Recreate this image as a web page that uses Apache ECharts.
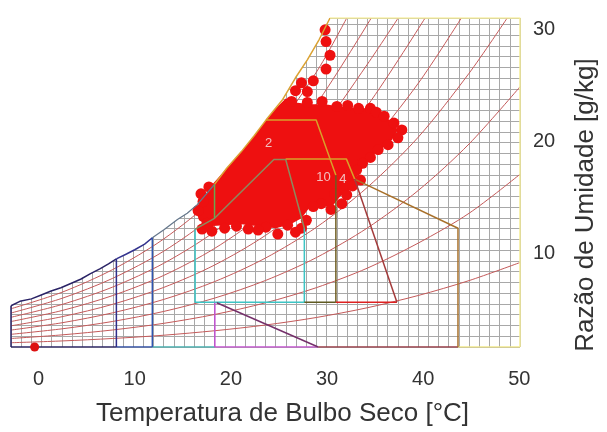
<!DOCTYPE html>
<html><head><meta charset="utf-8">
<script src="https://cdn.jsdelivr.net/npm/echarts@6/dist/echarts.min.js"></script>
<style>html,body{margin:0;padding:0;background:#fff}#c{width:607px;height:432px}</style>
</head><body><div id="c"></div>
<script>
// ---- tick labels ----
const xTickLabels = [0, 10, 20, 30, 40, 50];
const yTickLabels = [10, 20, 30];

// ---- saturation curve (upper boundary) ----
const saturation = [[-2.87,5.38],[-1.945,5.77],[-0.747,5.99],[0.276,6.34],[1.30,6.69],[2.32,6.98],[3.35,7.36],[4.37,7.74],[5.40,8.24],[6.42,8.68],[7.27,9.12],[8.09,9.55],
  [9.14,9.99],[10.0,10.37],[11.03,10.87],[11.83,11.44],
  [13.07,12.18],[14.44,13.06],[15.46,13.63],[16.48,14.37],[18.30,16.2],
  [19.56,17.64],[21.09,19.12],[22.42,20.53],[23.65,21.93],[25.39,23.77],[26.72,25.7],[27.95,27.3],[29.18,29.11],[30.31,31.03]];

// ---- relative humidity curves 10% .. 90% ----
const rh10 = [[-2.87,2.08],[2.43,2.24],[7.72,2.46],[13.01,2.75],[18.31,3.15],[23.60,3.66],[28.89,4.33],[34.19,5.20],[39.48,6.29],[44.77,7.62],[50.07,9.23]];
const rh20 = [[-2.87,2.46],[2.43,2.78],[7.72,3.22],[13.01,3.81],[18.31,4.60],[23.60,5.64],[28.89,6.99],[34.19,8.73],[39.48,10.96],[44.77,13.62],[50.07,17.1]];
const rh30 = [[-2.87,2.83],[2.43,3.32],[7.72,3.98],[13.01,4.87],[18.31,6.06],[23.60,7.63],[28.89,9.67],[34.19,12.31],[39.48,15.65],[44.77,19.8],[50.07,24.9]];
const rh40 = [[-2.87,3.21],[2.43,3.86],[7.72,4.75],[13.01,5.94],[18.31,7.53],[23.60,9.63],[28.89,12.37],[34.19,15.93],[39.48,20.4],[44.77,26.1],[48.74,31.03]];
const rh50 = [[-2.87,3.59],[2.43,4.40],[7.72,5.51],[13.01,7.01],[18.31,9.01],[23.60,11.65],[28.89,15.09],[34.19,19.5],[39.48,25.2],[43.97,31.03]];
const rh60 = [[-2.87,3.97],[2.43,4.95],[7.72,6.29],[13.01,8.08],[18.31,10.49],[23.60,13.68],[28.89,17.8],[34.19,23.2],[40.2,31.03]];
const rh70 = [[-2.87,4.35],[2.43,5.49],[7.72,7.05],[13.01,9.16],[18.31,11.98],[23.60,15.7],[28.89,20.55],[34.19,26.9],[37.4,31.03]];
const rh80 = [[-2.87,4.73],[2.43,6.04],[7.72,7.83],[13.01,10.24],[18.31,13.48],[23.60,17.75],[28.89,23.35],[34.6,31.03]];
const rh90 = [[-2.87,5.11],[2.43,6.58],[7.72,8.61],[13.01,11.33],[18.31,14.99],[23.60,19.8],[28.89,26.2],[32.05,31.03]];

// ---- zone boundaries ----
const leftEdge = [[-2.87,1.70],[-2.87,5.38]];
const bottomNavy = [[-2.87,1.70],[8.09,1.70]];
const bottomBlue = [[8.09,1.70],[11.83,1.70]];
const bottomTeal = [[11.83,1.70],[18.33,1.70]];
const bottomMagenta = [[18.33,1.70],[29.08,1.70]];
const bottomBrown = [[29.08,1.70],[43.62,1.70]];
const bottomYellow = [[43.62,1.70],[50.07,1.70]];
const navyVertical = [[8.09,1.70],[8.09,9.55]];
const blueVertical = [[11.83,1.70],[11.83,11.44]];
const comfortBox = [[16.28,12.21],[16.28,5.68],[27.64,5.68],[27.64,12.29]];
const comfortTop = [[16.28,12.21],[18.30,13.17],[24.47,18.42],[25.70,18.42],[27.64,12.29]];
const greenVertical = [[18.30,13.17],[18.30,16.2]];
const zone2Top = [[23.65,21.93],[28.87,21.93],[30.92,17.02]];
const oliveVertical = [[30.92,17.02],[30.92,5.68]];
const oliveBottom = [[27.64,5.68],[30.92,5.68]];
const redBottom = [[30.92,5.68],[37.27,5.68]];
const zone4Top = [[25.70,18.45],[32.02,18.45],[32.87,16.67]];
const brownZone = [[32.87,16.67],[43.62,12.29],[43.62,1.70]];
const darkRedDiag = [[32.87,16.67],[37.27,5.68]];
const magentaVertical = [[18.33,1.70],[18.33,5.64]];
const purpleDiag = [[18.53,5.64],[29.08,1.70]];
const yellowFrame = [[30.31,31.03],[50.07,31.03],[50.07,1.70]];

// ---- zone numbers ----
const zoneLabels = [{value:[23.93,19.82],name:'2'},{value:[29.62,16.85],name:'10'},{value:[31.64,16.67],name:'4'}];

// ---- hourly climate data (dense cloud + outer points) ----
const cloudCore = [[16.89,14.66],[18.02,16.15],[19.56,17.64],[21.09,19.12],[22.42,20.53],[23.65,21.93],[24.68,22.98],[25.70,23.85],[26.72,23.50],[28.26,23.33],[29.80,23.33],[31.33,23.15],[32.87,22.98],[34.40,22.98],[35.73,22.45],[36.76,21.75],[37.37,21.05],[36.76,20.18],[35.73,19.47],[34.71,18.77],[33.89,17.90],[33.07,16.85],[32.46,15.80],[31.33,15.10],[30.6,14.3],[29.4,14.2],[28.26,14.22],[27.34,13.17],[26.21,12.64],[24.68,12.29],[22.83,12.47],[21.09,12.64],[19.35,12.56],[17.71,12.47],[16.69,13.0],[16.28,14.05]];
const cloudPoints = [[29.80,29.98],[29.90,28.93],[30.31,27.71],[29.90,26.48],[28.57,25.43],[27.34,25.25],[27.95,24.47],[26.72,24.55],[26.31,23.59],[27.95,23.50],[29.49,23.59],[31.02,23.15],[32.15,23.24],[33.28,22.98],[34.51,22.98],[35.12,22.63],[35.94,22.28],[36.96,21.66],[37.78,21.05],[37.37,20.35],[36.35,19.74],[35.32,19.30],[34.51,18.60],[33.69,18.07],[33.07,17.46],[33.48,16.58],[32.66,16.06],[32.05,15.27],[30.82,15.36],[31.54,14.48],[30.41,13.96],[29.39,14.48],[28.57,14.22],[27.85,13.0],[27.34,12.29],[26.72,11.94],[25.90,12.56],[24.88,11.77],[23.65,12.38],[22.83,12.12],[21.81,12.21],[20.58,12.47],[19.35,12.29],[18.02,12.03],[17.0,12.21],[17.51,12.73],[16.59,13.87],[17.10,14.66],[16.89,15.36],[17.71,15.97]];
const isolatedPoint = [[-0.41,1.70]];

const chart = echarts.init(document.getElementById('c'), null, {renderer:'canvas'});
const FONT = 'Liberation Sans';
function seg(data, color, width, z) {
  return {type:'line', data:data, symbol:'none', silent:true, z:z||5, animation:false,
    lineStyle:{color:color, width:width||1.4}, xAxisIndex:0, yAxisIndex:0};
}
function rh(data) {
  return {type:'line', data:data, symbol:'none', silent:true, z:2, smooth:0.3, animation:false,
    lineStyle:{color:'#c45a5a', width:1}, xAxisIndex:0, yAxisIndex:0};
}
const series = [
  {type:'line', data:saturation, symbol:'none', silent:true, z:1, animation:false,
   lineStyle:{width:0}, areaStyle:{color:'#ffffff', opacity:1, origin:'end'}},
  rh(rh10), rh(rh20), rh(rh30), rh(rh40), rh(rh50), rh(rh60), rh(rh70), rh(rh80), rh(rh90),
  {type:'custom', silent:true, z:4, animation:false, data:[[0,0]],
   renderItem:function(params, api){
     return {type:'polygon', shape:{points: cloudCore.map(p=>api.coord(p))}, style:{fill:'#ee1010'}};
   }},
  {type:'scatter', data:cloudPoints, symbolSize:11, silent:true, z:4, animation:false, itemStyle:{color:'#ee1010', opacity:1}},
  seg(saturation.slice(0,12), '#2a2366', 1.5),
  seg(saturation.slice(11,16), '#33338e', 1.5),
  seg(saturation.slice(15,21), '#66788c', 1.3),
  seg(saturation.slice(20), '#dba233', 1.5),
  seg(leftEdge, '#2a2366', 1.5),
  seg(bottomNavy, '#2a2366', 1.5),
  seg(bottomBlue, '#2f4fa8', 1.5),
  seg(bottomTeal, '#44b0b0', 1.5),
  seg(bottomMagenta, '#c455d0', 1.5),
  seg(bottomBrown, '#9a3a45', 1.5),
  seg(bottomYellow, '#f2e88a', 1.5),
  seg(navyVertical, '#2e2e8a', 1.5),
  seg(blueVertical, '#2f55b0', 1.5),
  seg(comfortBox, '#3cc4c4', 1.5),
  seg(comfortTop, '#8c8a5e', 1.5),
  seg(greenVertical, '#6aa84f', 1.5),
  seg(zone2Top, '#d8a02a', 1.5),
  seg(oliveVertical, '#6e5c20', 1.5),
  seg(oliveBottom, '#5f5a22', 1.5),
  seg(redBottom, '#dd2020', 1.5),
  seg(zone4Top, '#d8a02a', 1.5),
  seg(brownZone, '#a8702a', 1.5),
  seg(darkRedDiag, '#a33b3b', 1.5),
  seg(magentaVertical, '#c050d0', 1.5),
  seg(purpleDiag, '#74306a', 1.5),
  seg(yellowFrame, '#f4ec96', 1.5),
  {type:'scatter', data:isolatedPoint, symbolSize:9, silent:true, z:6, animation:false, clip:false, itemStyle:{color:'#dd1111', opacity:1}},
  {type:'scatter', data:zoneLabels, symbolSize:0, silent:true, z:7, animation:false,
   label:{show:true, position:'inside', formatter:'{b}', color:'#f4eaea', fontSize:13, fontFamily:FONT}}
];
chart.setOption({
  animation:false,
  backgroundColor:'#ffffff',
  grid:{left:11, right:79, top:18, bottom:79},
  xAxis:[
    {type:'value', min:-2.87, max:50.07, axisLine:{show:false}, axisTick:{show:false}, splitLine:{show:false},
     axisLabel:{customValues:xTickLabels, fontSize:20, color:'#333', margin:22, fontFamily:FONT},
     name:'Temperatura de Bulbo Seco [°C]', nameLocation:'middle', nameGap:54,
     nameTextStyle:{fontSize:26, color:'#333', fontFamily:FONT, padding:[0,0,0,34]}},
    {type:'value', min:0, max:50, interval:1, axisLine:{show:false}, axisTick:{show:false}, axisLabel:{show:false},
     splitLine:{show:true, lineStyle:{color:'#a8a8a8', width:1}}}
  ],
  yAxis:[
    {type:'value', position:'right', min:1.70, max:31.03, axisLine:{show:false}, axisTick:{show:false}, splitLine:{show:false},
     axisLabel:{customValues:yTickLabels, fontSize:20, color:'#333', margin:13, fontFamily:FONT},
     name:'Razão de Umidade [g/kg]', nameLocation:'middle', nameRotate:90, nameGap:53,
     nameTextStyle:{fontSize:26, color:'#333', fontFamily:FONT, padding:[0,45,0,0]}},
    {type:'value', position:'left', min:0, max:30.6, interval:1, axisLine:{show:false}, axisTick:{show:false}, axisLabel:{show:false},
     splitLine:{show:true, lineStyle:{color:'#a8a8a8', width:1}}}
  ],
  series:series
});
</script></body></html>
